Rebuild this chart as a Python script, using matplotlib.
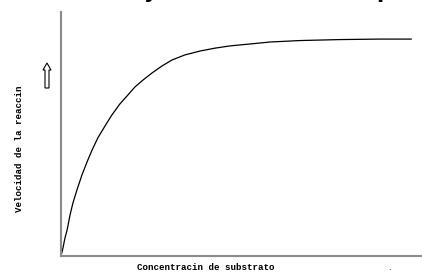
import matplotlib

matplotlib.use('Agg')
import matplotlib.pyplot as plt

# Concentración de substrato / velocidad (unidades arbitrarias)
substrato = [0.0, 0.055, 0.11, 0.17, 0.25, 0.33, 0.44, 0.58, 0.72, 0.86, 1.02, 1.22, 1.41, 1.63,
             1.83, 2.05, 2.27, 2.52, 2.80, 3.07, 3.43, 3.85, 4.27, 4.68, 5.24, 5.79, 6.62, 7.73,
             8.84, 9.70]
velocidad = [0.0, 0.33, 0.74, 1.07, 1.68, 2.17, 2.70, 3.32, 3.85, 4.34, 4.84, 5.33, 5.78, 6.23,
             6.56, 6.93, 7.21, 7.50, 7.79, 8.03, 8.24, 8.40, 8.52, 8.61, 8.69, 8.77, 8.83, 8.87,
             8.89, 8.89]

etiqueta_x = 'Concentracin de substrato'
etiqueta_y = 'Velocidad de la reaccin'


def main():
    W, H = 422, 276
    fig = plt.figure(figsize=(W / 100, H / 100), dpi=100)
    # ejes: izquierda x=61, abajo y=256, arriba y=12
    ax = fig.add_axes([61 / W, 1 - 256 / H, 1 - 61 / W, 244 / H])
    ax.plot(substrato, velocidad, color='black', linewidth=0.9)
    ax.set_xlim(0, 10)
    ax.set_ylim(0, 10)
    ax.set_xticks([])
    ax.set_yticks([])
    for s in ['top', 'right']:
        ax.spines[s].set_visible(False)
    for s in ['left', 'bottom']:
        ax.spines[s].set_color('#8a8a8a')
        ax.spines[s].set_linewidth(1.5)

    mono = dict(family='Liberation Mono', fontsize=6.6, weight='bold', color='black')
    fig.text(206 / W, 1 - 268 / H, etiqueta_x, ha='center', va='center', **mono)
    fig.text(20 / W, 1 - 149 / H, etiqueta_y, ha='center', va='center', rotation=90, **mono)

    # flecha hueca
    fig.patches.append(matplotlib.patches.FancyArrow(
        47 / W, 1 - 88 / H, 0, 25 / H, width=4 / W, head_width=8 / W, head_length=7 / H,
        length_includes_head=True, transform=fig.transFigure, fc='white', ec='black', lw=0.8))

    # restos del título cortado arriba (solo se ven los trazos descendentes)
    fig.text(151 / W, 1 + 2 / H, 'y', ha='center', va='baseline', fontsize=15, weight='bold')
    fig.text(384 / W, 1 + 2 / H, 'p', ha='center', va='baseline', fontsize=15, weight='bold')
    fig.text(389 / W, 1 - 270 / H, '.', ha='center', va='baseline', fontsize=6)

    fig.savefig('out.png', dpi=100)


if __name__ == '__main__':
    main()
